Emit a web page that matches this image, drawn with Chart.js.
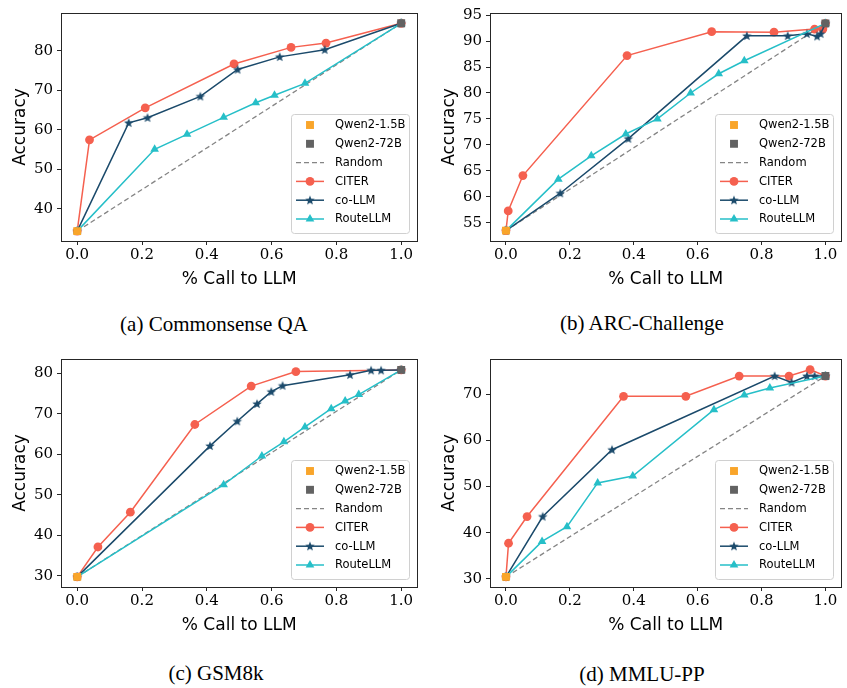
<!DOCTYPE html>
<html>
<head>
<meta charset="utf-8">
<script src="https://cdn.jsdelivr.net/npm/chart.js@4/dist/chart.umd.min.js"></script>
<style>
  html, body { margin: 0; padding: 0; background: #fff; }
  #wrap { position: relative; width: 847px; height: 688px; overflow: hidden; }
  canvas { position: absolute; }
  .cap { position: absolute; width: 300px; text-align: center; line-height: 24px;
         font-family: "Liberation Serif", serif; font-size: 21px; color: #000; }
</style>
</head>
<body>
<div id="wrap">
  <canvas id="ca" width="423" height="292" style="left:0;top:0"></canvas>
  <canvas id="cb" width="418" height="292" style="left:429px;top:0"></canvas>
  <canvas id="cc" width="423" height="292" style="left:0;top:346px"></canvas>
  <canvas id="cd" width="418" height="292" style="left:429px;top:346px"></canvas>
  <div class="cap" style="left:64px;top:312px">(a) Commonsense QA</div>
  <div class="cap" style="left:492px;top:311px">(b) ARC-Challenge</div>
  <div class="cap" style="left:66px;top:661px">(c) GSM8k</div>
  <div class="cap" style="left:492px;top:662px">(d) MMLU-PP</div>
</div>
<script>
// values: [% call to LLM, accuracy]
const xTicks = [0, 0.2, 0.4, 0.6, 0.8, 1.0];

// (a) Commonsense QA
const aSmall = 34.4, aLarge = 87.0;
const aCiter = [[0, 34.4], [0.038, 57.5], [0.21, 65.6], [0.484, 76.7], [0.66, 80.9], [0.768, 82.0], [1, 87.0]];
const aCoLLM = [[0, 34.4], [0.159, 61.8], [0.217, 63.1], [0.38, 68.5], [0.495, 75.3], [0.625, 78.5], [0.764, 80.3], [1, 87.0]];
const aRoute = [[0, 34.4], [0.239, 55.1], [0.339, 58.9], [0.452, 63.2], [0.551, 66.9], [0.609, 68.8], [0.703, 71.8], [1, 87.0]];
const aTicks = [40, 50, 60, 70, 80];

// (b) ARC-Challenge
const bSmall = 53.5, bLarge = 93.4;
const bCiter = [[0, 53.5], [0.007, 57.3], [0.053, 64.1], [0.379, 87.2], [0.644, 91.8], [0.839, 91.7], [0.966, 92.3], [0.992, 92.3], [1, 93.4]];
const bCoLLM = [[0, 53.5], [0.17, 60.7], [0.383, 71.2], [0.754, 91.0], [0.882, 91.0], [0.942, 91.4], [0.974, 90.9], [0.985, 91.4], [1, 93.4]];
const bRoute = [[0, 53.5], [0.164, 63.4], [0.267, 67.9], [0.375, 72.1], [0.474, 75.0], [0.578, 80.0], [0.666, 83.7], [0.746, 86.2], [1, 93.4]];
const bTicks = [55, 60, 65, 70, 75, 80, 85, 90, 95];

// (c) GSM8k
const cSmall = 29.7, cLarge = 80.9;
const cCiter = [[0, 29.7], [0.064, 37.1], [0.164, 45.7], [0.363, 67.4], [0.537, 76.9], [0.675, 80.5], [1, 80.9]];
const cCoLLM = [[0, 29.7], [0.41, 62.1], [0.494, 68.2], [0.555, 72.5], [0.599, 75.5], [0.634, 77.0], [0.842, 79.7], [0.907, 80.8], [0.938, 80.8], [1, 80.9]];
const cRoute = [[0, 29.7], [0.452, 52.5], [0.57, 59.6], [0.638, 63.1], [0.703, 66.8], [0.784, 71.3], [0.827, 73.2], [0.869, 74.8], [1, 80.9]];
const cTicks = [30, 40, 50, 60, 70, 80];

// (d) MMLU-PP
const dSmall = 30.4, dLarge = 74.0;
const dCiter = [[0, 30.4], [0.008, 37.7], [0.066, 43.5], [0.368, 69.6], [0.563, 69.6], [0.73, 74.0], [0.886, 74.0], [0.952, 75.4], [1, 74.0]];
const dCoLLM = [[0, 30.4], [0.115, 43.5], [0.332, 58.0], [0.841, 74.0], [0.894, 72.6], [0.942, 74.0], [0.966, 74.0], [1, 74.0]];
const dRoute = [[0, 30.4], [0.113, 38.1], [0.191, 41.3], [0.287, 50.8], [0.397, 52.3], [0.651, 66.7], [0.746, 69.9], [0.826, 71.4], [1, 74.0]];
const dTicks = [30, 40, 50, 60, 70];

const ORANGE = "#f9a52a", GREY = "#626262", DASH = "#858585";
const RED = "#f5604f", NAVY = "#1b4a6b", CYAN = "#26bfc8";

function starImage(color) {
  const c = document.createElement("canvas");
  c.width = c.height = 12;
  const g = c.getContext("2d");
  g.fillStyle = color;
  g.beginPath();
  for (let i = 0; i < 10; i++) {
    const r = i % 2 ? 2.1 : 5.0;
    const a = -Math.PI / 2 + i * Math.PI / 5;
    g.lineTo(6 + r * Math.cos(a), 6.3 + r * Math.sin(a));
  }
  g.closePath();
  g.fill();
  return c;
}
const STAR = starImage(NAVY);

// black box around the plot area (matplotlib spines)
const framePlugin = {
  id: "frame",
  afterDatasetsDraw(chart) {
    const { ctx, chartArea: a } = chart;
    ctx.save();
    ctx.strokeStyle = "#262626";
    ctx.lineWidth = 1;
    ctx.strokeRect(Math.round(a.left) + 0.5, Math.round(a.top) + 0.5,
                   Math.round(a.right - a.left), Math.round(a.bottom - a.top));
    ctx.restore();
  }
};

// legend box in the lower right corner
const legendPlugin = {
  id: "boxLegend",
  afterDraw(chart) {
    const { ctx, chartArea: a } = chart;
    const w = 118, h = 119;
    const x = Math.round(a.right - 8 - w), y = Math.round(a.bottom - 8 - h);
    ctx.save();
    ctx.fillStyle = "rgba(255,255,255,0.85)";
    ctx.strokeStyle = "#d0d0d0";
    ctx.lineWidth = 1;
    ctx.beginPath();
    ctx.roundRect(x + 0.5, y + 0.5, w, h, 3);
    ctx.fill();
    ctx.stroke();
    chart.data.datasets.forEach((ds, i) => {
      const cy = y + 11 + i * 18.8;
      const x0 = x + 5, x1 = x + 33, cx = (x0 + x1) / 2;
      if (ds.showLine !== false) {
        ctx.strokeStyle = ds.borderColor;
        ctx.lineWidth = ds.borderWidth;
        ctx.setLineDash(ds.borderDash || []);
        ctx.beginPath();
        ctx.moveTo(x0, cy);
        ctx.lineTo(x1, cy);
        ctx.stroke();
        ctx.setLineDash([]);
      }
      if (ds.pointRadius > 0) {
        ctx.fillStyle = ds.pointBackgroundColor;
        Chart.helpers.drawPoint(ctx, { pointStyle: ds.pointStyle, rotation: 0,
          radius: ds.pointRadius, borderWidth: 0 }, cx, cy);
      }
      ctx.fillStyle = "#000";
      ctx.font = "11.5px 'DejaVu Sans'";
      ctx.textBaseline = "middle";
      ctx.fillText(ds.label, x + 44, cy + 0.5);
    });
    ctx.restore();
  }
};

function pts(arr) {
  return arr.map(([x, y]) => ({ x, y }));
}

function makeChart(id, small, large, citer, colm, route, yTicks, yMin, yMax, padRight) {
  const tickFont = { family: "'DejaVu Serif'", size: 15 };
  const titleFont = { family: "'DejaVu Sans'", size: 17 };
  return new Chart(document.getElementById(id), {
    type: "line",
    data: {
      datasets: [
        { label: "Qwen2-1.5B", data: [{ x: 0, y: small }], showLine: false, order: 0,
          pointStyle: "rect", pointRadius: 5.6, pointBackgroundColor: ORANGE, pointBorderWidth: 0 },
        { label: "Qwen2-72B", data: [{ x: 1, y: large }], showLine: false, order: 0,
          pointStyle: "rect", pointRadius: 5.6, pointBackgroundColor: GREY, pointBorderWidth: 0 },
        { label: "Random", data: [{ x: 0, y: small }, { x: 1, y: large }], order: 4,
          borderColor: DASH, borderWidth: 1.3, borderDash: [5, 3], pointRadius: 0 },
        { label: "CITER", data: pts(citer), order: 3, borderColor: RED, borderWidth: 1.5,
          pointStyle: "circle", pointRadius: 4.4, pointBackgroundColor: RED, pointBorderWidth: 0 },
        { label: "co-LLM", data: pts(colm), order: 2, borderColor: NAVY, borderWidth: 1.5,
          pointStyle: STAR, pointRadius: 5, pointBackgroundColor: NAVY, pointBorderWidth: 0 },
        { label: "RouteLLM", data: pts(route), order: 1, borderColor: CYAN, borderWidth: 1.5,
          pointStyle: "triangle", pointRadius: 5, pointBackgroundColor: CYAN, pointBorderWidth: 0 },
      ],
    },
    options: {
      responsive: false,
      animation: false,
      layout: { padding: { top: 5, right: padRight, left: 0, bottom: 0 } },
      plugins: { legend: { display: false }, tooltip: { enabled: false } },
      scales: {
        x: {
          type: "linear", min: -0.05, max: 1.05,
          afterBuildTicks: s => { s.ticks = xTicks.map(v => ({ value: v })); },
          afterFit: s => { s.height = 51; },
          ticks: { font: tickFont, color: "#000", padding: 1, maxRotation: 0,
                   callback: v => v.toFixed(1) },
          grid: { drawOnChartArea: false, drawTicks: true, tickLength: 4, color: "#262626" },
          border: { display: false },
          title: { display: true, text: "% Call to LLM", font: titleFont, color: "#000",
                   padding: { top: 0, bottom: 2 } },
        },
        y: {
          type: "linear", min: yMin, max: yMax,
          afterBuildTicks: s => { s.ticks = yTicks.map(v => ({ value: v })); },
          afterFit: s => { s.width = 61; },
          ticks: { font: tickFont, color: "#000", padding: 4, callback: v => String(v) },
          grid: { drawOnChartArea: false, drawTicks: true, tickLength: 4, color: "#262626" },
          border: { display: false },
          title: { display: true, text: "Accuracy", font: titleFont, color: "#000",
                   padding: { top: 10, bottom: 0 } },
        },
      },
    },
    plugins: [framePlugin, legendPlugin],
  });
}

makeChart("ca", aSmall, aLarge, aCiter, aCoLLM, aRoute, aTicks, 31.9, 89.6, 5);
makeChart("cb", bSmall, bLarge, bCiter, bCoLLM, bRoute, bTicks, 51.5, 95.4, 1);
makeChart("cc", cSmall, cLarge, cCiter, cCoLLM, cRoute, cTicks, 27.2, 83.6, 5);
makeChart("cd", dSmall, dLarge, dCiter, dCoLLM, dRoute, dTicks, 28.2, 77.7, 1);
</script>
</body>
</html>
